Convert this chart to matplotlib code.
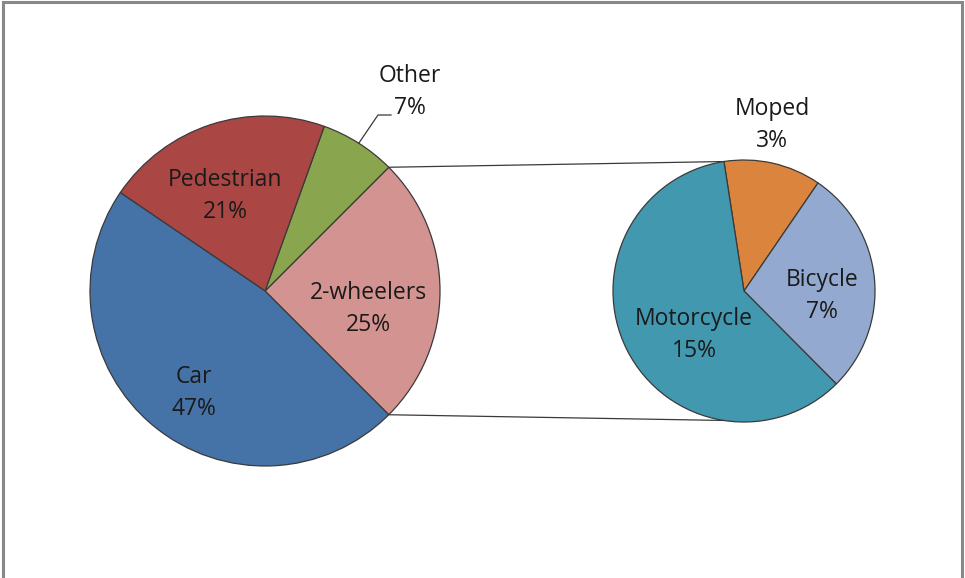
"""
pie of pie: road deaths by mode of transport
"""
import numpy as np
import matplotlib.pyplot as plt
from matplotlib.patches import Rectangle

plt.rcParams['font.family'] = ['Open Sans', 'DejaVu Sans']

# main pie (counter-clockwise from the 2-wheelers slice)
main_labels = ['2-wheelers', 'Other', 'Pedestrian', 'Car']
main_values = [25, 7, 21, 47]
main_colors = ['#D39391', '#89A54E', '#AA4643', '#4572A7']

# second pie: split of 2-wheelers (clockwise from Moped)
sub_labels = ['Moped', 'Bicycle', 'Motorcycle']
sub_values = [3, 7, 15]
sub_colors = ['#DB843D', '#93A9CF', '#4198AF']

W, H = 965, 578
fig = plt.figure(figsize=(W / 100, H / 100), dpi=100)
ax = fig.add_axes([0, 0, 1, 1])

c1, r1 = (265, 287), 175
c2, r2 = (744, 287), 131
edge = dict(edgecolor='#3a3a3a', linewidth=0.9)

# main pie, 2-wheelers centred on the right
start1 = -main_values[0] / 2 * 3.6
ax.pie(main_values, colors=main_colors, startangle=start1, counterclock=True,
       center=c1, radius=r1, wedgeprops=edge, frame=True)

# second pie
start2 = 90 + 8.8
ax.pie(sub_values, colors=sub_colors, startangle=start2, counterclock=False,
       center=c2, radius=r2, wedgeprops=edge, frame=True)

# connector lines
a1 = np.deg2rad(main_values[0] / 2 * 3.6)
a2 = np.deg2rad(start2)
for s in (1, -1):
    x0 = c1[0] + r1 * np.cos(a1)
    y0 = c1[1] + s * r1 * np.sin(a1)
    x1 = c2[0] + r2 * np.cos(a2)
    y1 = c2[1] + s * r2 * np.sin(a2)
    ax.plot([x0, x1], [y0, y1], color='#3a3a3a', lw=0.9, zorder=0)

# labels
fs = 16.5
ls = 1.45
main_pos = {'2-wheelers': (368, 269), 'Pedestrian': (225, 382),
            'Car': (194, 185), 'Other': (410, 486)}
for lab, v in zip(main_labels, main_values):
    x, y = main_pos[lab]
    ax.text(x, y, f'{lab}\n{v}%', ha='center', va='center', fontsize=fs,
            color='#1a1a1a', linespacing=ls)
sub_pos = {'Moped': (772, 453), 'Bicycle': (822, 282), 'Motorcycle': (694, 243)}
for lab, v in zip(sub_labels, sub_values):
    x, y = sub_pos[lab]
    ax.text(x, y, f'{lab}\n{v}%', ha='center', va='center', fontsize=fs,
            color='#1a1a1a', linespacing=ls)

# leader line for Other
ao = np.deg2rad(np.degrees(a1) + main_values[1] / 2 * 3.6)
lx = c1[0] + r1 * np.cos(ao)
ly = c1[1] + r1 * np.sin(ao)
ax.plot([lx, 378, 391], [ly, 463, 463], color='#3a3a3a', lw=0.9)

# chart border
ax.add_patch(Rectangle((2.5, -10), W - 5.5, H + 8, fill=False,
                       edgecolor='#888888', lw=2.2))

ax.set_xlim(0, W)
ax.set_ylim(0, H)
ax.set_aspect('equal')
ax.axis('off')

fig.savefig('out.png', dpi=100)
